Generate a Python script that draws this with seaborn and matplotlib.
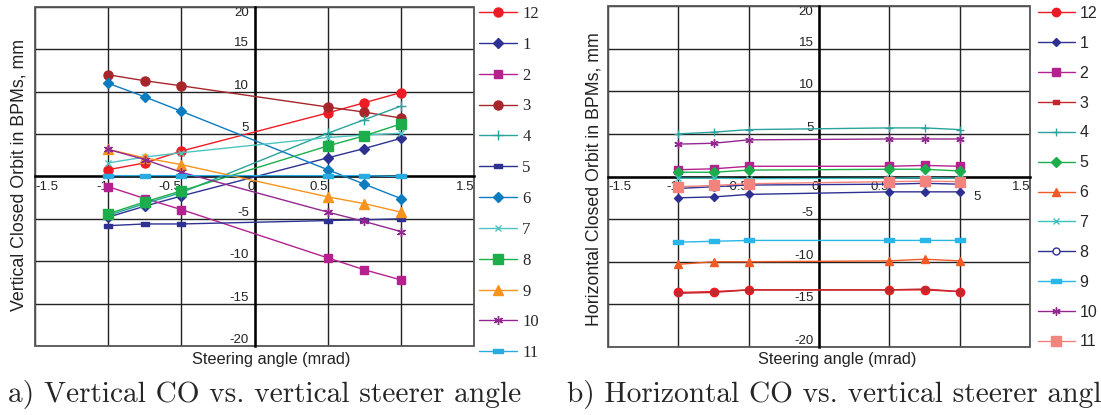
import matplotlib
matplotlib.use("Agg")
import matplotlib.pyplot as plt
from matplotlib.patches import Rectangle
import seaborn as sns

# steering angles (mrad) at which the orbit was measured
steer = [-1, -0.75, -0.5, 0.5, 0.75, 1]
bpm_names = ["12", "1", "2", "3", "4", "5", "6", "7", "8", "9", "10", "11"]

# a) vertical closed orbit (mm) per BPM
v12 = [0.8, 1.6, 3.0, 7.5, 8.7, 9.9]
v1 = [-4.8, -3.5, -2.3, 2.2, 3.3, 4.5]
v2 = [-1.2, -2.6, -3.9, -9.6, -11.0, -12.2]
v3 = [12.0, 11.3, 10.7, 8.2, 7.6, 6.9]
v4 = [-4.6, -3.2, -1.9, 5.1, 6.7, 8.3]
v5 = [-5.8, -5.6, -5.6, -5.2, -5.1, -5.0]
v6 = [11.0, 9.4, 7.7, 0.8, -0.9, -2.6]
v7 = [1.6, 2.3, 2.8, 4.6, 4.9, 5.1]
v8 = [-4.4, -3.0, -1.7, 3.6, 4.8, 6.2]
v9 = [3.2, 2.2, 1.4, -2.4, -3.2, -4.2]
v10 = [3.2, 2.0, 0.5, -4.2, -5.3, -6.5]
v11 = [0.1, 0.1, 0.1, 0.1, 0.1, 0.0]

# b) horizontal closed orbit (mm) per BPM
h12 = [-13.6, -13.5, -13.3, -13.3, -13.3, -13.5]
h1 = [-2.5, -2.4, -2.1, -1.8, -1.8, -1.8]
h2 = [0.8, 0.9, 1.2, 1.2, 1.3, 1.2]
h3 = [-13.7, -13.6, -13.3, -13.3, -13.2, -13.5]
h4 = [5.0, 5.2, 5.5, 5.7, 5.7, 5.5]
h5 = [0.5, 0.5, 0.75, 0.85, 0.85, 0.65]
h6 = [-10.3, -10.0, -10.0, -9.9, -9.7, -9.9]
h7 = [-0.2, -0.2, -0.25, -0.2, -0.15, -0.2]
h8 = [-1.4, -1.2, -1.0, -0.9, -0.8, -0.9]
h9 = [-7.7, -7.6, -7.5, -7.5, -7.5, -7.5]
h10 = [3.8, 3.9, 4.3, 4.4, 4.4, 4.4]
h11 = [-1.2, -1.05, -0.85, -0.6, -0.55, -0.6]

vert_series = [v12, v1, v2, v3, v4, v5, v6, v7, v8, v9, v10, v11]
hor_series = [h12, h1, h2, h3, h4, h5, h6, h7, h8, h9, h10, h11]

x_ticks = [-1.5, -1, -0.5, 0, 0.5, 1, 1.5]
y_ticks = [-20, -15, -10, -5, 0, 5, 10, 15, 20]

# marcadores estilo Excel
rect = [(-1, -0.45), (1, -0.45), (1, 0.45), (-1, 0.45), (-1, -0.45)]
aster = (6, 2, 0)

vert_styles = [
    ("#ED1C24", "o", 6.5, None), ("#2E3192", "D", 5, None),
    ("#B5218E", "s", 6, None), ("#A6262C", "o", 6.5, None),
    ("#2BA39C", "+", 6.5, None), ("#2E3192", rect, 6, None),
    ("#0C7CC1", "D", 5.5, None), ("#4DC4C0", "x", 5, None),
    ("#1BAE4B", "s", 6.5, None), ("#F7941D", "^", 6.5, None),
    ("#92278F", aster, 6.5, None), ("#29ABE2", rect, 7, None),
]
hor_styles = [
    ("#ED1C24", "o", 6, None), ("#2E3192", "D", 4.5, None),
    ("#B5218E", "s", 6, None), ("#C1272D", rect, 5, None),
    ("#2BA39C", "+", 6, None), ("#1BAE4B", "D", 5, None),
    ("#F15A24", "^", 6, None), ("#3CC0C0", "x", 5, None),
    ("#2E3192", "o", 5, "white"), ("#29B6E8", rect, 7, None),
    ("#92278F", aster, 6, None), ("#F4837D", "s", 6.5, None),
]

sns.set_style("white")
plt.rcParams["font.family"] = ["Liberation Sans", "DejaVu Sans"]

fig = plt.figure(figsize=(11.01, 4.15), dpi=100)
W, H = 1101, 415


def panel(rect_px, series, styles, x_labels, leg_x, leg_font, leg_space):
    l, t, r, b = rect_px
    ax = fig.add_axes([l / W, 1 - b / H, (r - l) / W, (b - t) / H])
    for name, vals, (c, m, ms, mfc) in zip(bpm_names, series, styles):
        sns.lineplot(x=steer, y=vals, ax=ax, color=c, marker=m, markersize=ms,
                     markeredgecolor=c, markerfacecolor=mfc if mfc else c,
                     markeredgewidth=1.0, linewidth=1.0, label=name, zorder=3)
    ax.set_xlim(-1.5, 1.5)
    ax.set_ylim(-20, 20)
    ax.set_xticks(x_ticks, x_labels)
    ax.set_yticks(y_ticks, [str(v) if v != 0 else "" for v in y_ticks])
    ax.grid(True, color="#222222", linewidth=1.0, zorder=0.5)
    ax.set_axisbelow(True)
    for s in ["top", "right"]:
        ax.spines[s].set_visible(False)
    ax.spines["left"].set_position(("data", 0))
    ax.spines["bottom"].set_position(("data", 0))
    for s in ["left", "bottom"]:
        ax.spines[s].set_linewidth(1.8)
        ax.spines[s].set_color("black")
        ax.spines[s].set_zorder(2.5)
    ax.add_patch(Rectangle((0, 0), 1, 1, transform=ax.transAxes, fill=False,
                           edgecolor="#555555", linewidth=1.3, clip_on=False, zorder=2))
    ax.tick_params(axis="both", direction="out", length=2, width=1, pad=1,
                   labelsize=9.5, colors="#222222")
    ax.tick_params(axis="y", pad=2)
    for i, lab in enumerate(ax.get_xticklabels()):
        lab.set_ha("left" if i == 0 else "right")
    for lab, v in zip(ax.get_yticklabels(), y_ticks):
        lab.set_va("top" if v == 20 else "bottom")
    ax.set_xlabel("")
    ax.set_ylabel("")
    ax.legend(loc="upper left", bbox_to_anchor=(leg_x / W, 1 - 6 / H),
              bbox_transform=fig.transFigure, frameon=False, borderpad=0,
              borderaxespad=0, handlelength=2.3, handletextpad=0.3,
              labelspacing=leg_space, prop=leg_font)
    return ax


ax1 = panel((35, 7, 474, 346), vert_series, vert_styles,
            ["-1.5", "-1", "-0.5", "0", "0.5", "", "1.5"], 479,
            {"family": "Liberation Serif", "size": 12}, 0.89)
ax2 = panel((608, 6, 1030, 347), hor_series, hor_styles,
            ["-1.5", "-1", "-0.5", "0", "0.5", "", "1.5"], 1038,
            {"family": "Liberation Sans", "size": 11.5}, 0.93)

fig.text(19 / W, 1 - 175 / H, "Vertical Closed Orbit in BPMs, mm", rotation=90,
         ha="center", va="center", fontsize=12.8, color="#222222")
fig.text(594 / W, 1 - 179 / H, "Horizontal Closed Orbit in BPMs, mm", rotation=90,
         ha="center", va="center", fontsize=12.8, color="#222222")
fig.text(271 / W, 1 - 359 / H, "Steering angle (mrad)", ha="center", va="center",
         fontsize=11.8, color="#222222")
fig.text(837 / W, 1 - 359 / H, "Steering angle (mrad)", ha="center", va="center",
         fontsize=11.8, color="#222222")
fig.text(973 / W, 1 - 197 / H, "5", ha="left", va="center", fontsize=9.5, color="#222222")

fig.text(8 / W, 1 - 394 / H, "a) Vertical CO vs. vertical steerer angle",
         ha="left", va="center", fontsize=21.2, family="cmr10")
# in the source figure this caption runs past the right edge
fig.text(567 / W, 1 - 394 / H, "b) Horizontal CO vs. vertical steerer angle",
         ha="left", va="center", fontsize=21.2, family="cmr10")

plt.savefig("out.png", dpi=100)
plt.close()
